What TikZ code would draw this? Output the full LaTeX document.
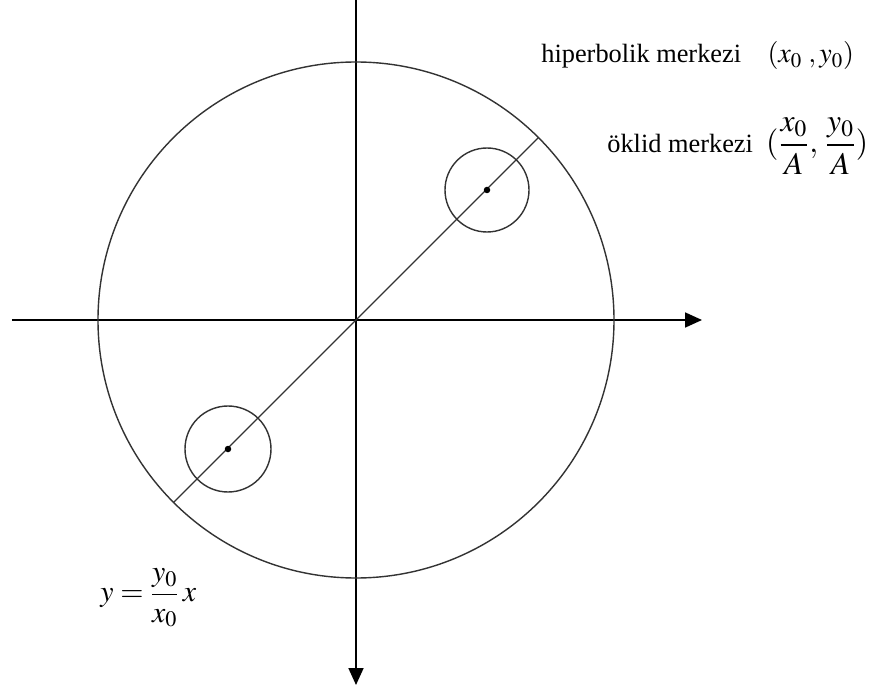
\documentclass[tikz,border=0pt]{standalone}
\usepackage{amsmath}
\usepackage{mathptmx}
\usepackage[no-math]{fontspec}
\setmainfont{Liberation Serif}
\usetikzlibrary{arrows.meta}

\newcommand{\mathbig}[1]{{\fontsize{17}{20}\selectfont #1}}

\begin{document}
\begin{tikzpicture}[
    every node/.style={font=\rmfamily\fontsize{15}{18}\selectfont, inner sep=0pt},
    >={Triangle[length=3.4mm, width=3mm]},
    curve/.style={line width=0.8pt, black!80}
]
\useasboundingbox (-7.12,-7.4) rectangle (10.38,6.4);

% --- Axes ---
\coordinate (O) at (0,0);
\coordinate (xs) at (-6.88,0);
\coordinate (xe) at (6.92,0);
\coordinate (ys) at (0,6.4);
\coordinate (ye) at (0,-7.3);
\draw[->, line width=1pt] (xs) -- (xe);
\draw[->, line width=1pt] (ys) -- (ye);

% --- Unit disc ---
\draw[curve] (O) circle (5.16);

% --- Line through the centres ---
\coordinate (la) at (-135:5.16);
\coordinate (lb) at (45:5.16);
\draw[curve] (la) -- (lb);

% --- Two small circles ---
\coordinate (c1) at (2.62,2.6);
\coordinate (c2) at (-2.56,-2.58);
\draw[curve] (c1) circle (0.84);
\draw[curve] (c2) circle (0.86);
\fill (c1) circle (0.065);
\fill (c2) circle (0.065);

% --- Labels ---
\node[anchor=base west] (hyp) at (3.7,5.14)
    {hiperbolik merkezi\quad {\fontsize{16}{19}\selectfont $(x_0\;,y_0)$}};
\node[anchor=base west] (eucl) at (5.02,3.34)
    {\"oklid merkezi\enspace {\fontsize{18}{21}\selectfont $(\dfrac{x_0}{A},\,\dfrac{y_0}{A})$}};
\node[anchor=west] (eq) at (-5.12,-5.56)
    {\mathbig{$y=\dfrac{y_0}{x_0}\,x$}};

\end{tikzpicture}
\end{document}
